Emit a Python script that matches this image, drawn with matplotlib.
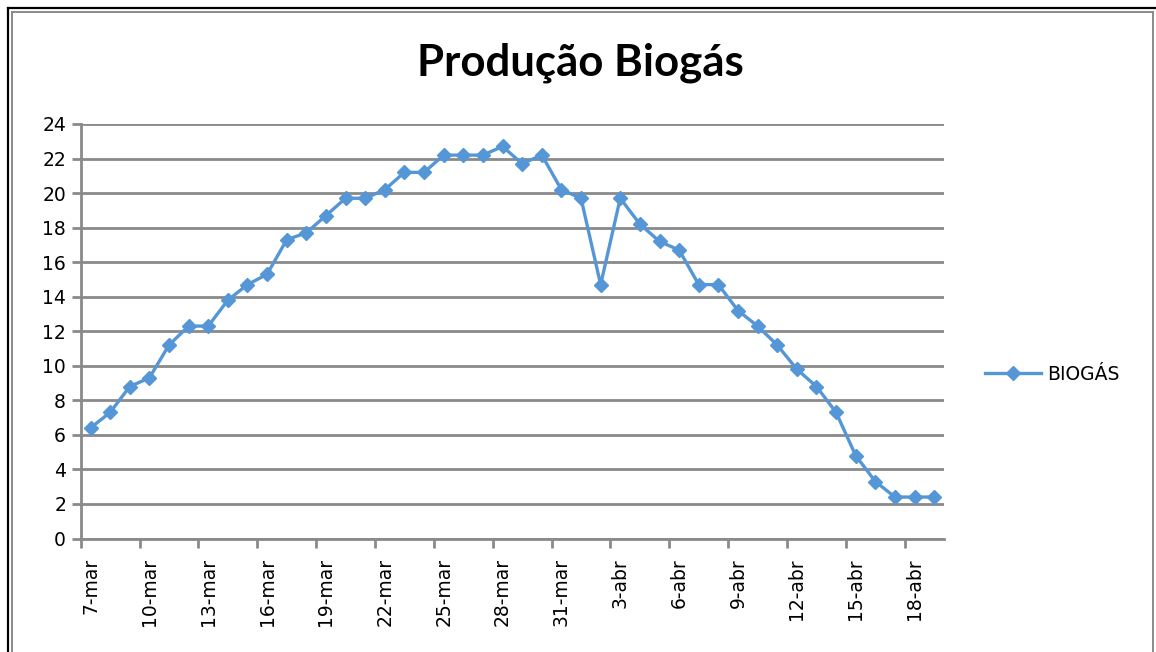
import matplotlib
matplotlib.use("Agg")
import matplotlib.pyplot as plt
from matplotlib.lines import Line2D
import numpy as np

# producao diaria de biogas, 7-mar a 19-abr
biogas = [6.4, 7.3, 8.8, 9.3, 11.2, 12.3, 12.3, 13.8, 14.7, 15.3,
          17.3, 17.7, 18.7, 19.7, 19.7, 20.2, 21.2, 21.2, 22.2, 22.2,
          22.2, 22.7, 21.7, 22.2, 20.2, 19.7, 14.7, 19.7, 18.2, 17.2,
          16.7, 14.7, 14.7, 13.2, 12.3, 11.2, 9.8, 8.8, 7.3, 4.8,
          3.3, 2.4, 2.4, 2.4]
tick_labels = ["7-mar", "10-mar", "13-mar", "16-mar", "19-mar", "22-mar",
               "25-mar", "28-mar", "31-mar", "3-abr", "6-abr", "9-abr",
               "12-abr", "15-abr", "18-abr"]
y_ticks = [0, 2, 4, 6, 8, 10, 12, 14, 16, 18, 20, 22, 24]

blue = "#5596d6"
grid_gray = "#8a8a8a"

fig = plt.figure(figsize=(11.56, 6.52), dpi=100)
ax = fig.add_axes([80.7 / 1156, 1 - 538.5 / 652, (944 - 80.7) / 1156, (538.5 - 124) / 652])

x = np.arange(len(biogas))
ax.plot(x, biogas, color=blue, linewidth=2.4, marker="D", markersize=7.5,
        markeredgecolor=blue, zorder=3, clip_on=False)

ax.set_xlim(-0.5, len(biogas) - 0.5)
ax.set_ylim(0, 24)

# linhas de grade horizontais
ax.set_yticks(y_ticks)
ax.set_yticklabels([str(v) for v in y_ticks])
ax.yaxis.grid(True, color=grid_gray, linewidth=2)
ax.set_axisbelow(True)

# rotulos a cada 3 dias, marcas entre categorias
ax.set_xticks(np.arange(0, len(biogas), 3))
ax.set_xticklabels(tick_labels, rotation=90)
ax.set_xticks(np.arange(-0.5, len(biogas) - 1, 3), minor=True)
ax.tick_params(axis="x", which="major", length=0, pad=14, labelsize=13.5)
ax.tick_params(axis="x", which="minor", length=6.5, width=2, color=grid_gray)
ax.tick_params(axis="y", length=6.5, width=2, color=grid_gray, pad=4, labelsize=13.5)

for side in ["top", "right"]:
    ax.spines[side].set_visible(False)
for side in ["left", "bottom"]:
    ax.spines[side].set_color(grid_gray)
    ax.spines[side].set_linewidth(2)

fig.text(0.502, 1 - 63 / 652, "Produção Biogás", ha="center", va="center",
         fontsize=31.5, fontweight="bold", family="Lato")

handle = Line2D([], [], color=blue, linewidth=2.4, marker="D", markersize=7.5)
fig.legend([handle], ["BIOGÁS"], loc="center left",
           bbox_to_anchor=(968 / 1156, 1 - 374 / 652), frameon=False,
           fontsize=13.5, handlelength=3.0, handletextpad=0.3)

# moldura da imagem
fig.add_artist(Line2D([7.5 / 1156, 7.5 / 1156], [0, 1 - 8 / 652], color="black",
                      linewidth=1.6, transform=fig.transFigure))
fig.add_artist(Line2D([7.5 / 1156, 1], [1 - 8 / 652, 1 - 8 / 652], color="black",
                      linewidth=1.6, transform=fig.transFigure))
fig.add_artist(Line2D([11.5 / 1156, 11.5 / 1156], [0, 1 - 11.5 / 652], color=grid_gray,
                      linewidth=1.4, transform=fig.transFigure))
fig.add_artist(Line2D([11.5 / 1156, 1153 / 1156], [1 - 11.5 / 652, 1 - 11.5 / 652],
                      color=grid_gray, linewidth=1.4, transform=fig.transFigure))
fig.add_artist(Line2D([1153 / 1156, 1153 / 1156], [0, 1 - 11.5 / 652], color=grid_gray,
                      linewidth=1.4, transform=fig.transFigure))

fig.savefig("out.png", dpi=100)
